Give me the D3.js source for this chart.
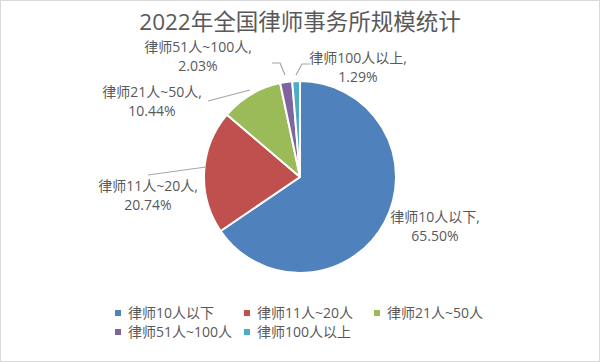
<!DOCTYPE html>
<html>
<head>
<meta charset="utf-8">
<script src="https://cdn.jsdelivr.net/npm/d3@7"></script>
<style>
  body { margin: 0; background: #fff; }
  svg text { font-family: "Open Sans", "Noto Sans CJK SC", sans-serif; fill: #595959; }
</style>
</head>
<body>
<div id="chart"></div>
<script>
const W = 600, H = 362;

const categories = ["律师10人以下", "律师11人~20人", "律师21人~50人", "律师51人~100人", "律师100人以上"];
const shares = [65.50, 20.74, 10.44, 2.03, 1.29];
const colors = ["#4F81BD", "#C0504D", "#9BBB59", "#8064A2", "#4BACC6"];

// where each data label sits and its leader line (null = no line)
const labelLayout = [
  { x: 435, y: 217, line: null },
  { x: 148, y: 186, line: [[148, 175], [206, 167]] },
  { x: 152, y: 92,  line: [[208, 101], [250, 90]] },
  { x: 198, y: 47,  line: [[272, 63], [280, 63], [285, 75]] },
  { x: 358, y: 58,  line: [[310, 64], [302, 64], [296, 75]] }
];

const svg = d3.select("#chart").append("svg")
  .attr("width", W)
  .attr("height", H);

svg.append("rect")
  .attr("x", 0.5).attr("y", 0.5)
  .attr("width", W - 1).attr("height", H - 1)
  .attr("fill", "#fff")
  .attr("stroke", "#d9d9d9");

svg.append("text")
  .attr("x", 300)
  .attr("y", 30)
  .attr("text-anchor", "middle")
  .style("font-size", "22.5px")
  .text("2022年全国律师事务所规模统计");

const cx = 300, cy = 177, R = 96;

const pie = d3.pie().sort(null).value(d => d.v);
const arc = d3.arc().innerRadius(0).outerRadius(R);

const data = categories.map((c, i) => ({ name: c, v: shares[i], color: colors[i] }));
const arcs = pie(data);

const g = svg.append("g").attr("transform", `translate(${cx},${cy})`);

g.selectAll("path")
  .data(arcs)
  .enter()
  .append("path")
  .attr("d", arc)
  .attr("fill", d => d.data.color)
  .attr("stroke", "#fff")
  .attr("stroke-width", 2)
  .attr("stroke-linejoin", "round");

// leader lines
const line = d3.line();
svg.selectAll(".leader")
  .data(labelLayout.filter(d => d.line))
  .enter()
  .append("path")
  .attr("class", "leader")
  .attr("d", d => line(d.line))
  .attr("fill", "none")
  .attr("stroke", "#a6a6a6")
  .attr("stroke-width", 1.2);

// data labels
const labels = svg.selectAll(".lbl")
  .data(arcs)
  .enter()
  .append("text")
  .attr("class", "lbl")
  .attr("text-anchor", "middle")
  .style("font-size", "14px");

labels.append("tspan")
  .attr("x", (d, i) => labelLayout[i].x)
  .attr("y", (d, i) => labelLayout[i].y + 5)
  .text(d => d.data.name + ",");

labels.append("tspan")
  .attr("x", (d, i) => labelLayout[i].x)
  .attr("y", (d, i) => labelLayout[i].y + 24)
  .text(d => d3.format(".2f")(d.data.v) + "%");

// legend
const legendRows = [[0, 1, 2], [3, 4]];
const colX = [118, 247, 377];
const rowY = [313, 332];

const legendItems = [];
legendRows.forEach((row, r) => row.forEach((idx, c) => legendItems.push({ idx, x: colX[c], y: rowY[r] })));

const leg = svg.selectAll(".leg")
  .data(legendItems)
  .enter()
  .append("g")
  .attr("class", "leg")
  .attr("transform", d => `translate(${d.x},${d.y})`);

leg.append("rect")
  .attr("x", -3).attr("y", -3)
  .attr("width", 6).attr("height", 6)
  .attr("fill", d => colors[d.idx]);

leg.append("text")
  .attr("x", 10)
  .attr("y", 5)
  .style("font-size", "14px")
  .text(d => categories[d.idx]);
</script>
</body>
</html>
